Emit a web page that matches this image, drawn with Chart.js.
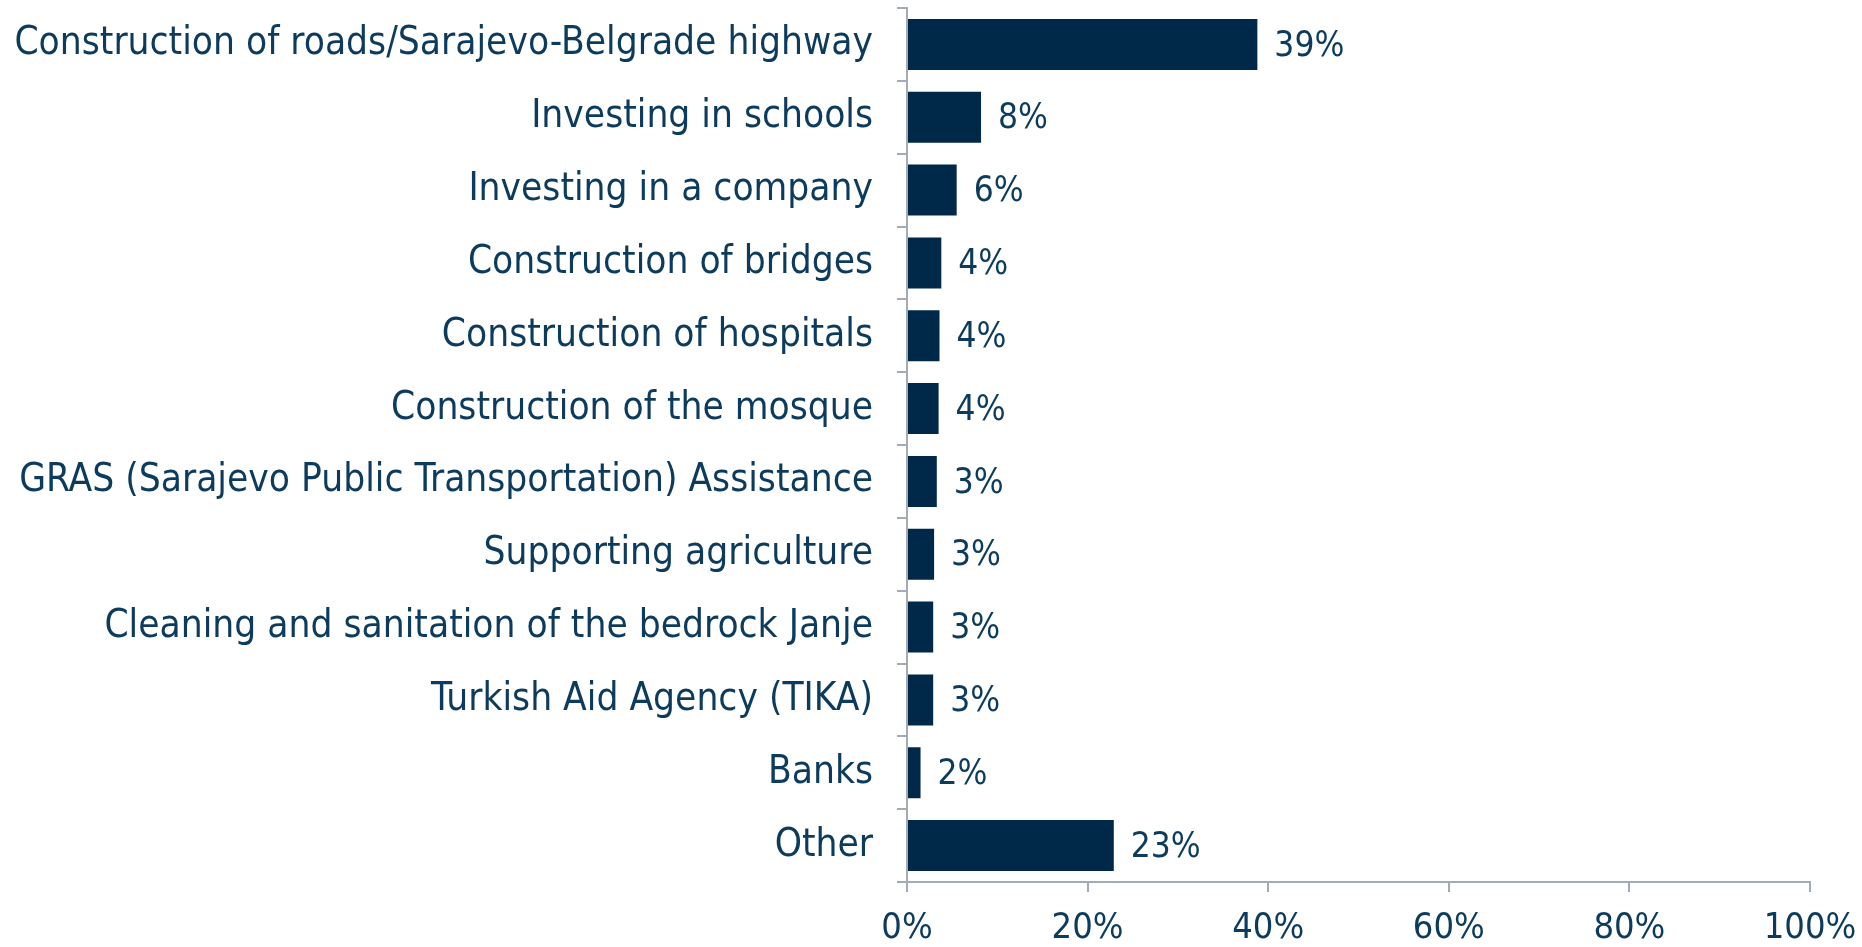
<!DOCTYPE html>
<html>
<head>
<meta charset="utf-8">
<script src="https://cdn.jsdelivr.net/npm/chart.js@4.4.1/dist/chart.umd.min.js"></script>
<style>
  html, body { margin: 0; padding: 0; background: #fff; }
  #wrap { width: 1862px; height: 947px; }
</style>
</head>
<body>
<div id="wrap"><canvas id="projectChart"></canvas></div>
<script>
const categories = [
    "Construction of roads/Sarajevo-Belgrade highway",
    "Investing in schools",
    "Investing in a company",
    "Construction of bridges",
    "Construction of hospitals",
    "Construction of the mosque",
    "GRAS (Sarajevo Public Transportation) Assistance",
    "Supporting agriculture",
    "Cleaning and sanitation of the bedrock Janje",
    "Turkish Aid Agency (TIKA)",
    "Banks",
    "Other"
];
const shares = [38.8, 8.2, 5.5, 3.8, 3.6, 3.5, 3.3, 3.0, 2.9, 2.9, 1.5, 22.9];
const xTicks = [0, 20, 40, 60, 80, 100];

const textColor = "#0c3b5d";
const barColor = "#002849";
const axisColor = "#a3abb6";
const fontFamily = "'DejaVu Sans Condensed', 'DejaVu Sans', sans-serif";

// draws the rounded percentage just right of each bar
const valueLabels = {
    id: "valueLabels",
    afterDatasetsDraw(chart) {
        const ctx = chart.ctx;
        const meta = chart.getDatasetMeta(0);
        ctx.save();
        ctx.fillStyle = textColor;
        ctx.font = "35px " + fontFamily;
        ctx.textAlign = "left";
        ctx.textBaseline = "middle";
        meta.data.forEach((bar, i) => {
            ctx.fillText(Math.round(shares[i]) + "%", bar.x + 17, bar.y + 2);
        });
        ctx.restore();
    }
};

new Chart(document.getElementById("projectChart").getContext("2d"), {
    type: "bar",
    data: {
        labels: categories,
        datasets: [{
            data: shares,
            backgroundColor: barColor,
            borderWidth: 0,
            categoryPercentage: 0.7,
            barPercentage: 1.0
        }]
    },
    options: {
        indexAxis: "y",
        responsive: true,
        maintainAspectRatio: false,
        animation: false,
        layout: { padding: { top: 8, right: 52, left: 0, bottom: 0 } },
        plugins: {
            legend: { display: false },
            tooltip: { enabled: false }
        },
        scales: {
            x: {
                min: 0,
                max: 100,
                afterBuildTicks(scale) {
                    scale.ticks = xTicks.map(v => ({ value: v }));
                },
                afterFit(scale) {
                    scale.height = 65;
                    scale.paddingLeft = 0;
                    scale.paddingRight = 0;
                },
                border: { color: axisColor, width: 2 },
                grid: { drawOnChartArea: false, color: axisColor, lineWidth: 2, tickLength: 10 },
                ticks: {
                    color: textColor,
                    padding: 15,
                    font: { family: fontFamily, size: 36 },
                    callback: v => v + "%"
                }
            },
            y: {
                afterFit(scale) {
                    scale.width = 907;
                    scale.paddingTop = 0;
                    scale.paddingBottom = 0;
                },
                border: { color: axisColor, width: 2 },
                grid: { drawOnChartArea: false, color: axisColor, lineWidth: 2, tickLength: 10, offset: true },
                ticks: {
                    color: textColor,
                    padding: 24,
                    font: { family: fontFamily, size: 38.5 }
                }
            }
        }
    },
    plugins: [valueLabels]
});
</script>
</body>
</html>
